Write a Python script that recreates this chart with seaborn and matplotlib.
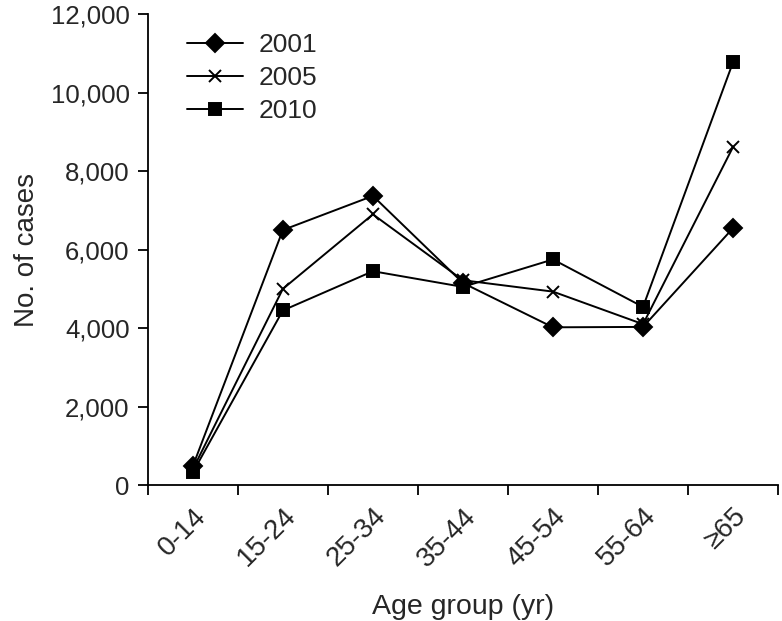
import pandas as pd
import matplotlib
matplotlib.use('Agg')
import matplotlib.pyplot as plt
import matplotlib.ticker as mticker
import seaborn as sns

# values
age_groups = ['0-14', '15-24', '25-34', '35-44', '45-54', '55-64', '≥65']
cases_2001 = [480, 6500, 7370, 5150, 4020, 4030, 6550]
cases_2005 = [400, 5000, 6900, 5220, 4930, 4100, 8620]
cases_2010 = [320, 4450, 5450, 5050, 5750, 4540, 10780]

series = {'2001': (cases_2001, 'D'), '2005': (cases_2005, 'x'), '2010': (cases_2010, 's')}

sns.set_style('ticks')
plt.rcParams['font.family'] = ['Liberation Sans', 'DejaVu Sans']

fig = plt.figure(figsize=(7.82, 6.21), dpi=100)
ax = fig.add_axes([0.189, 0.219, 0.806, 0.758])

pos = list(range(len(age_groups)))
for year, (vals, mk) in series.items():
    # filled vs line-art markers can't be mixed in one call, so one call per year
    sns.lineplot(x=pos, y=vals, color='black', marker=mk, markersize=9 if mk != 's' else 8,
                 markeredgewidth=1.4, markeredgecolor='black', markerfacecolor='black',
                 linewidth=1.4, label=year, ax=ax)

ax.set_xlim(-0.5, len(age_groups) - 0.5)
ax.set_ylim(0, 12000)
ax.yaxis.set_major_locator(mticker.MultipleLocator(2000))
ax.yaxis.set_major_formatter(mticker.StrMethodFormatter('{x:,.0f}'))

# category labels at centres, tick marks at boundaries
ax.set_xticks(pos)
ax.set_xticklabels(age_groups, rotation=45, ha='right', rotation_mode='anchor')
ax.set_xticks([i - 0.5 for i in range(len(age_groups) + 1)], minor=True)
ax.tick_params(axis='x', which='major', length=0, pad=13, labelsize=20)
ax.tick_params(axis='x', which='minor', length=7, width=1.3, direction='out', color='black')
ax.tick_params(axis='y', length=7, width=1.3, pad=6, direction='out', labelsize=18.5, color='black')

for s in ['left', 'bottom']:
    ax.spines[s].set_linewidth(1.3)
    ax.spines[s].set_color('black')
sns.despine(ax=ax)

ax.set_xlabel('Age group (yr)', fontsize=20.5, labelpad=16)
ax.set_ylabel('No. of cases', fontsize=20, labelpad=8)

ax.legend(loc='upper left', bbox_to_anchor=(0.025, 1.01), frameon=False,
          fontsize=19, handlelength=2.1, labelspacing=0.33, handletextpad=0.6)

fig.savefig('out.png', dpi=100)
